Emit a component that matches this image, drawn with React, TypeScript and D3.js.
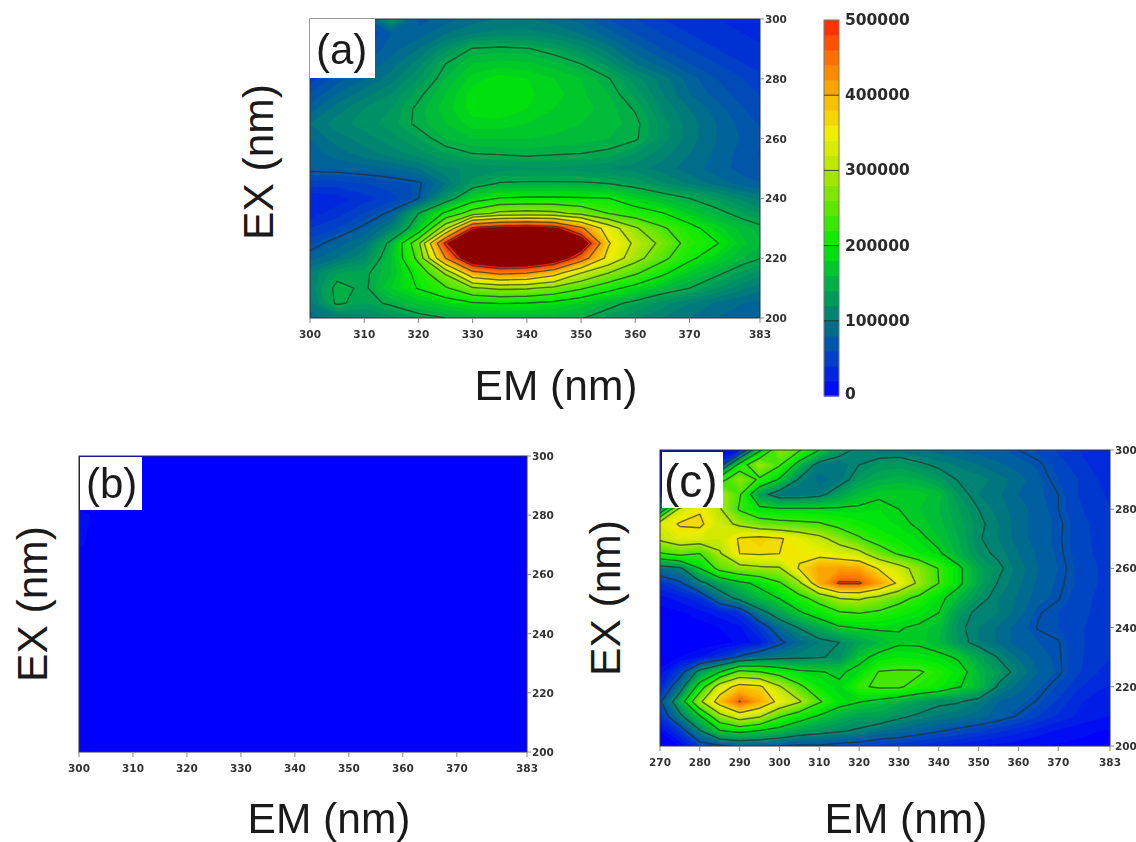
import React from "react";
import * as d3 from "d3";

// Excitation rows run from 300 nm (top) to 200 nm (bottom); values in thousands of counts.
const emA = [300,305,310,315,320,325,330,335,340,345,350,355,360,365,370,375,380,385];
const exA = [300,295,290,285,280,275,270,265,260,255,250,245,240,235,230,225,220,215,210,205,200];
const gridA = [
[40,50,70,130,75,85,95,100,100,95,85,70,60,50,45,40,35,30],
[40,45,55,80,85,100,110,115,115,110,100,85,70,60,50,45,40,35],
[45,55,70,85,100,125,152,155,152,140,125,105,85,70,60,50,45,40],
[50,65,80,95,115,150,170,175,172,165,150,125,100,85,70,60,50,42],
[55,75,90,105,130,160,185,195,190,180,170,152,125,105,85,70,60,50],
[70,90,105,120,145,170,195,200,192,185,172,160,135,110,90,75,65,55],
[85,105,120,130,155,175,195,200,190,180,175,165,148,118,100,85,70,60],
[100,115,125,135,155,170,185,185,180,175,170,165,155,125,105,90,75,65],
[90,105,115,125,140,160,170,170,170,168,165,160,153,125,105,90,78,68],
[85,95,105,115,125,140,150,152,155,152,150,146,130,115,100,88,75,65],
[80,82,85,90,100,118,122,125,128,128,125,120,115,105,95,85,75,68],
[55,55,60,65,72,100,135,152,153,153,153,150,138,122,108,95,85,78],
[30,35,45,55,75,130,185,205,208,208,206,204,182,165,150,135,115,100],
[35,45,60,80,150,210,260,290,295,290,270,240,220,205,178,158,140,122],
[50,60,80,110,175,310,500,525,535,520,440,345,285,245,215,185,165,150],
[65,85,100,160,270,500,590,600,600,590,560,375,310,270,225,205,172,155],
[85,100,120,170,250,430,570,600,600,560,460,355,295,250,210,182,160,145],
[110,140,145,170,215,285,410,440,430,390,320,280,245,210,176,155,135,118],
[110,158,145,180,205,235,275,288,285,270,245,215,190,165,150,130,112,100],
[105,155,140,155,172,185,200,205,203,195,178,160,142,125,110,98,90,85],
[95,105,115,125,140,150,155,157,157,155,152,135,122,110,100,90,85,80],
];
const levelsA = [75,150,203,240,280,320,370,430,490];

const emB = [300,310,320,330,340,350,360,370,380,390];
const exB = [300,290,280,270,260,250,240,230,220,210,200];
const gridB = [
[0,0,0,0,0,0,0,0,0,0],
[0,0,0,0,0,0,0,0,0,0],
[12,2,0,0,0,0,0,0,0,0],
[11,1,0,0,0,0,0,0,0,0],
[0,0,0,0,0,0,0,0,0,0],
[0,0,0,0,0,0,0,0,0,0],
[0,0,0,0,0,0,0,0,0,0],
[0,0,0,0,0,0,0,0,0,0],
[0,0,0,0,0,0,0,0,0,0],
[0,0,0,0,0,0,0,0,0,0],
[0,0,0,0,0,0,0,0,0,0],
];
const levelsB: number[] = [];

const emC = [270,275,280,285,290,295,300,305,310,315,320,325,330,335,340,345,350,355,360,365,370,375,380,385];
const exC = exA;
const gridC = [
[0,0,0,0,20,160,260,225,170,125,100,95,95,90,85,80,75,72,65,58,48,40,34,30],
[0,0,0,40,190,270,225,150,95,90,110,122,125,115,105,98,90,82,75,68,55,45,36,32],
[0,0,30,200,260,212,165,105,85,95,125,140,145,140,125,108,105,95,85,72,60,50,40,35],
[15,20,200,282,225,125,90,90,100,130,155,165,168,165,155,120,100,92,80,72,65,50,42,36],
[120,300,335,285,215,180,175,175,175,175,175,180,170,160,150,130,110,95,85,75,65,52,44,38],
[310,345,350,300,270,245,235,230,225,205,195,185,178,165,155,135,115,100,85,75,68,55,46,40],
[290,315,310,300,345,355,345,320,295,260,225,200,190,178,160,140,112,100,85,75,67,55,47,40],
[215,235,220,275,340,345,340,330,325,310,295,245,215,190,175,145,118,105,90,78,68,56,48,42],
[90,102,170,235,260,270,275,345,385,390,385,335,300,260,218,178,135,115,95,80,70,58,50,44],
[40,60,100,130,160,180,215,270,380,435,435,390,330,270,220,178,135,108,92,78,68,58,50,44],
[15,25,40,90,120,150,172,205,240,282,288,265,235,210,180,150,120,100,88,75,66,55,48,42],
[5,8,15,25,40,95,130,165,190,215,222,212,198,185,170,125,102,100,85,66,60,54,47,42],
[2,3,5,10,18,45,85,112,140,165,172,175,172,165,155,115,100,88,75,64,60,52,46,42],
[0,0,2,5,12,25,58,85,100,110,135,150,165,165,150,120,100,88,75,70,66,52,46,40],
[5,10,20,40,70,90,100,105,108,115,160,180,190,185,180,165,135,108,88,75,67,52,44,38],
[12,50,125,170,235,222,200,178,172,165,180,222,225,225,205,185,150,125,100,80,68,52,40,35],
[30,90,190,310,360,350,285,230,190,175,215,225,225,205,195,172,155,105,85,72,58,42,32,28],
[60,140,270,365,432,385,325,285,225,185,172,160,145,130,115,112,98,80,75,63,48,32,25,20],
[40,100,165,260,310,285,225,190,165,145,130,130,115,105,98,92,85,75,63,50,38,28,22,18],
[10,45,105,165,180,165,150,130,120,112,105,90,85,75,66,58,50,42,34,25,18,14,10,8],
[0,10,50,60,72,70,65,60,62,55,50,45,40,35,30,25,20,16,12,10,8,6,4,3],
];
const levelsC = [65,110,170,220,280,340,430];

const emTicks = [300,310,320,330,340,350,360,370,383];
const emTicksC = [270,280,290,300,310,320,330,340,350,360,370,383];
const exTicks = [200,220,240,260,280,300];
const barTicks = [0,100000,200000,300000,400000,500000];

const colorDomain = [0,50,100,150,200,250,300,350,400,450,500];
const colorRange = ["#0000ff","#0040c8","#007a7a","#00b046","#00ec00","#5ce600","#b4e600","#f0ee00","#fab400","#ff7000","#ff2200"];
const color = d3.scaleLinear<string>().domain(colorDomain).range(colorRange).clamp(true);
const fillThresholds = d3.range(10, 501, 10);
const coreThreshold = 505;
const coreColor = "#8c0000";
const lineColor = "rgba(30,50,40,0.68)";
const tickText = "#333";
const labelFont = "'Liberation Sans', Arial, sans-serif";
const tickFont = "'DejaVu Sans', sans-serif";
const titleSize = 42.5;

function Panel(props: {
  id: string; grid: number[][]; em: number[]; ex: number[]; levels: number[]; gain: number;
  x0: number; x1: number; y0: number; y1: number; emDomain: [number, number]; emT: number[];
  label: string; labelSize: number; box: number[]; labelX: number; labelY: number;
  xTitleX: number; xTitleY: number; yTitleX: number; yTitleY: number;
  pocket?: [number, number, number, number];
}) {
  const p = props;
  const nx = p.em.length, ny = p.ex.length;
  const xs = d3.scaleLinear().domain(p.emDomain).range([p.x0, p.x1]);
  const ys = d3.scaleLinear().domain([200, 300]).range([p.y1, p.y0]);
  const emAt = d3.scaleLinear().domain([0.5, nx - 0.5]).range([p.em[0], p.em[nx - 1]]);
  const exAt = d3.scaleLinear().domain([0.5, ny - 0.5]).range([p.ex[0], p.ex[ny - 1]]);
  const path = d3.geoPath(d3.geoTransform({
    point(u: number, v: number) { (this as any).stream.point(xs(emAt(u)), ys(exAt(v))); },
  }));
  const flat = p.grid.flat();
  const gen = d3.contours().size([nx, ny]);
  const bands = gen.thresholds(fillThresholds)(flat);
  const core = gen.thresholds([coreThreshold])(flat);
  const lines = gen.thresholds(p.levels)(flat);
  return (
    <g>
      <defs>
        <clipPath id={p.id}><rect x={p.x0} y={p.y0} width={p.x1 - p.x0} height={p.y1 - p.y0} /></clipPath>
        {p.pocket ? <clipPath id={p.id + "k"}><rect x={xs(p.pocket[0])} y={ys(p.pocket[3])} width={xs(p.pocket[1]) - xs(p.pocket[0])} height={ys(p.pocket[2]) - ys(p.pocket[3])} /></clipPath> : null}
      </defs>
      <g clipPath={`url(#${p.id})`}>
        <g filter="url(#soft)">
          <rect x={p.x0 - 5} y={p.y0 - 5} width={p.x1 - p.x0 + 10} height={p.y1 - p.y0 + 10} fill={color(0)} />
          {bands.map((b, i) => b.coordinates.length ? <path key={i} d={path(b as any) || ""} fill={color(b.value * p.gain)} stroke={color(b.value * p.gain)} strokeWidth={0.4} /> : null)}
          {core.map((b, i) => b.coordinates.length ? <path key={i} d={path(b as any) || ""} fill={coreColor} /> : null)}
          {lines.map((b, i) => b.coordinates.length ? <path key={i} d={path(b as any) || ""} fill="none" stroke={lineColor} strokeWidth={1.4} strokeLinejoin="round" clipPath={p.pocket && i === 0 ? `url(#${p.id}k)` : undefined} /> : null)}
        </g>
      </g>
      <rect x={p.x0} y={p.y0} width={p.x1 - p.x0} height={p.y1 - p.y0} fill="none" stroke="#333" strokeWidth={1} />
      <g filter="url(#softText)">
        {p.emT.map((t) => (
          <g key={t} transform={`translate(${xs(t)},${p.y1})`}>
            <line y2={5} stroke="#888" />
            <text y={20} textAnchor="middle" fontFamily={tickFont} fontWeight={700} fontSize={10.5} fill={tickText}>{t}</text>
          </g>
        ))}
        {exTicks.map((t) => (
          <g key={t} transform={`translate(${p.x1},${ys(t)})`}>
            <line x2={4} stroke="#888" />
            <text x={5} y={4} fontFamily={tickFont} fontWeight={700} fontSize={10.5} fill={tickText}>{t}</text>
          </g>
        ))}
      </g>
      <rect x={p.box[0]} y={p.box[1]} width={p.box[2]} height={p.box[3]} fill="#fff" />
      <text x={p.labelX} y={p.labelY} fontFamily={labelFont} fontSize={p.labelSize} fill="#1a1a1a">{p.label}</text>
      <text x={p.xTitleX} y={p.xTitleY} textAnchor="middle" fontFamily={labelFont} fontSize={titleSize} fill="#1a1a1a">EM (nm)</text>
      <text transform={`translate(${p.yTitleX},${p.yTitleY}) rotate(-90)`} textAnchor="middle" fontFamily={labelFont} fontSize={titleSize} fill="#1a1a1a">EX (nm)</text>
    </g>
  );
}

function ColorBar() {
  const x0 = 824, w = 15;
  const ys = d3.scaleLinear().domain([0, 500000]).range([396, 20]);
  const steps = d3.range(0, 500000, 20000);
  return (
    <g>
      {steps.map((s) => (
        <rect key={s} x={x0} y={ys(s + 20000)} width={w} height={ys(s) - ys(s + 20000) + 0.5} fill={color((s + 10000) / 1000)} />
      ))}
      <rect x={x0} y={20} width={w} height={376} fill="none" stroke="#777" strokeWidth={1} />
      {barTicks.map((t) => (
        <g key={t} transform={`translate(${x0},${ys(t)})`}>
          {t > 0 && t < 500000 ? <line x2={w} stroke="rgba(30,40,30,0.8)" strokeWidth={1} /> : null}
          <text x={w + 6} y={t === 0 ? 3 : 5} fontFamily={tickFont} fontWeight={700} fontSize={15.5} fill="#2a2a2a" filter="url(#softText)">{t}</text>
        </g>
      ))}
    </g>
  );
}

export default function App() {
  return (
    <svg width={1136} height={842} style={{ position: "absolute", left: 0, top: 0, background: "#fff" }}>
      <defs>
        <filter id="soft" x="-2%" y="-2%" width="104%" height="104%"><feGaussianBlur stdDeviation={0.7} /></filter>
        <filter id="softText" x="-5%" y="-5%" width="110%" height="110%"><feGaussianBlur stdDeviation={0.35} /></filter>
      </defs>
      <Panel id="pa" grid={gridA} em={emA} ex={exA} levels={levelsA} gain={1} x0={310} x1={760} y0={19} y1={318}
        emDomain={[300, 383]} emT={emTicks} label="(a)" labelSize={42} box={[310, 19, 65, 59]} labelX={316} labelY={64}
        xTitleX={556} xTitleY={400} yTitleX={273} yTitleY={162} pocket={[298, 326, 221, 252]} />
      <Panel id="pb" grid={gridB} em={emB} ex={exB} levels={levelsB} gain={1} x0={79} x1={527} y0={456} y1={752}
        emDomain={[300, 383]} emT={emTicks} label="(b)" labelSize={42} box={[80, 457, 62, 53]} labelX={86} labelY={498}
        xTitleX={329} xTitleY={833} yTitleX={47} yTitleY={604} />
      <Panel id="pc" grid={gridC} em={emC} ex={exC} levels={levelsC} gain={1.08} x0={660} x1={1110} y0={450} y1={746}
        emDomain={[270, 383]} emT={emTicksC} label="(c)" labelSize={46} box={[662, 452, 61, 56]} labelX={664} labelY={497}
        xTitleX={906} xTitleY={833} yTitleX={620} yTitleY={598} />
      <ColorBar />
    </svg>
  );
}
